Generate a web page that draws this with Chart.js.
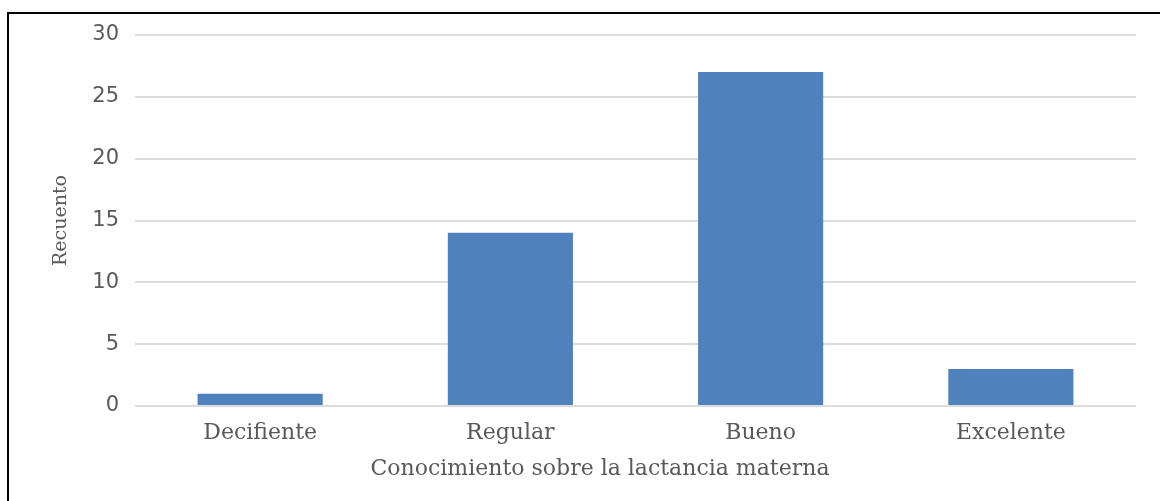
<!DOCTYPE html>
<html>
<head>
<meta charset="utf-8">
<script src="https://cdn.jsdelivr.net/npm/chart.js@4.4.1/dist/chart.umd.min.js"></script>
<style>
html,body{margin:0;padding:0;background:#fff;}
#wrap{width:1160px;height:501px;position:relative;}
</style>
</head>
<body>
<div id="wrap"><canvas id="c" width="1160" height="501"></canvas></div>
<script>
const categories = ["Decifiente", "Regular", "Bueno", "Excelente"];
const counts = [1, 14, 27, 3];
const yTicks = [0, 5, 10, 15, 20, 25, 30];
const xTitle = "Conocimiento sobre la lactancia materna";
const yTitle = "Recuento";

const frame = {
  id: 'frame',
  afterDraw(chart) {
    const ctx = chart.ctx;
    ctx.save();
    ctx.strokeStyle = '#000';
    ctx.lineWidth = 2;
    ctx.beginPath();
    ctx.moveTo(8, 501);
    ctx.lineTo(8, 13);
    ctx.lineTo(1160, 13);
    ctx.stroke();
    // x-axis title (Excel places it slightly left of the plot centre)
    ctx.fillStyle = '#595959';
    ctx.font = "22px 'DejaVu Serif'";
    ctx.textAlign = 'center';
    ctx.textBaseline = 'middle';
    ctx.fillText(xTitle, 600, 469);
    ctx.restore();
  }
};

new Chart(document.getElementById('c'), {
  type: 'bar',
  data: {
    labels: categories,
    datasets: [{
      data: counts,
      backgroundColor: '#4F81BD',
      borderWidth: 0,
      barPercentage: 0.5,
      categoryPercentage: 1.0
    }]
  },
  options: {
    responsive: false,
    animation: false,
    layout: { padding: { left: 46, right: 24, top: 35, bottom: 0 } },
    plugins: { legend: { display: false }, tooltip: { enabled: false } },
    scales: {
      x: {
        grid: { display: false },
        border: { display: false },
        ticks: { color: '#595959', font: { family: "'DejaVu Serif'", size: 22 }, padding: 6 },
        afterFit(s) { s.height = 95; }
      },
      y: {
        min: 0, max: 30,
        afterBuildTicks(s) { s.ticks = yTicks.map(v => ({ value: v })); },
        grid: { color: '#dcdcdc', lineWidth: 2, drawTicks: false },
        border: { display: false },
        ticks: { color: '#595959', font: { family: "'DejaVu Sans'", size: 21 }, padding: 16 },
        title: { display: true, text: yTitle, color: '#595959', font: { family: "'DejaVu Serif'", size: 19 }, padding: 4 },
        afterFit(s) { s.width = 89; }
      }
    }
  },
  plugins: [frame]
});
</script>
</body>
</html>
